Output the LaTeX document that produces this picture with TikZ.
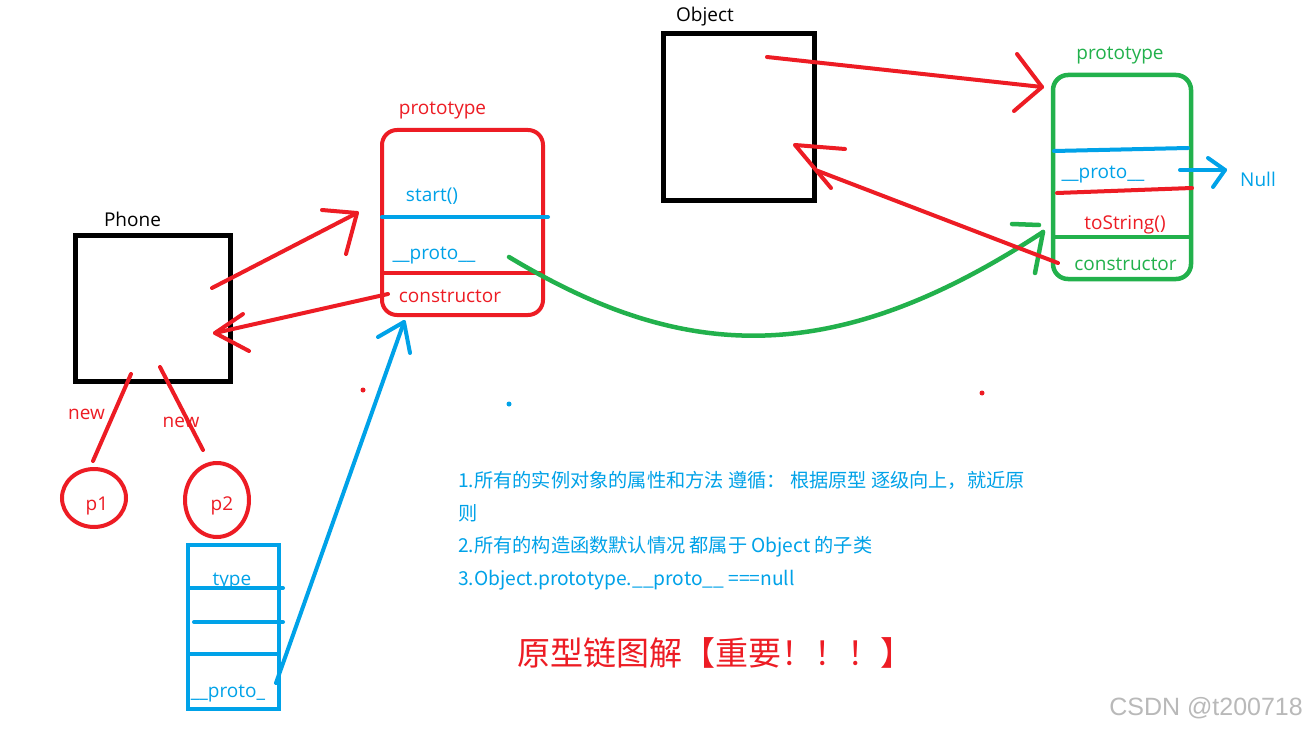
\documentclass[tikz,border=0pt]{standalone}
\usepackage{fontspec}
\setmainfont{Open Sans}
\newfontfamily\cjk{Noto Sans CJK SC}
\newfontfamily\wmfont{Liberation Sans}
\usetikzlibrary{shapes.geometric}
\definecolor{pred}{RGB}{237,28,36}
\definecolor{pblue}{RGB}{0,162,232}
\definecolor{pgreen}{RGB}{34,177,76}
\definecolor{wmgray}{RGB}{185,185,185}
\tikzset{
  lbl/.style={font=\fontsize{19}{22}\selectfont, inner sep=0pt, anchor=center},
  para/.style={font=\cjk\fontsize{19.2}{22}\selectfont, text=pblue, inner sep=0pt, anchor=west},
  blackbox/.style={draw=black, line width=5pt, minimum width=#1, inner sep=0pt},
  pen/.style={line width=4pt, line cap=round, line join=round},
  redpen/.style={pen, draw=pred},
  bluepen/.style={pen, draw=pblue},
  greenpen/.style={pen, draw=pgreen, line width=4.5pt},
  dot/.style={circle, fill=#1, inner sep=0pt, minimum size=5pt},
}
\begin{document}
\begin{tikzpicture}[x=1pt,y=-1pt]
\useasboundingbox (0,0) rectangle (1308,730);
\fill[white] (0,0) rectangle (1308,730);

% ---------- Phone ----------
\node[blackbox=155pt, minimum height=146pt] (phone) at (152.5,308) {};
\node[lbl, text=black] (phonelbl) at (132.5,219) {Phone};

% ---------- Object ----------
\node[blackbox=151pt, minimum height=166pt] (object) at (738.5,117) {};
\node[lbl, text=black] (objectlbl) at (705,17) {Object};

% ---------- red prototype box ----------
\node[draw=pred, line width=4pt, rounded corners=15pt, minimum width=161pt, minimum height=185pt, inner sep=0pt] (protoA) at (462.5,222.5) {};
\node[lbl, text=pred] (protoAlbl) at (442.5,111) {prototype};
\node[lbl, text=pblue] (startA) at (432,196) {start()};
\node[lbl, text=pblue] (protoAp) at (434,256) {\_\_proto\_\_};
\node[lbl, text=pred] (consA) at (450,296) {constructor};
\coordinate (dA1l) at (382,217); \coordinate (dA1r) at (548,217);
\coordinate (dA2l) at (382,273); \coordinate (dA2r) at (543,273);
\draw[bluepen] (dA1l) -- (dA1r);
\draw[redpen, line cap=butt] (dA2l) -- (dA2r);

% ---------- green prototype box ----------
\node[draw=pgreen, line width=4.5pt, rounded corners=15pt, minimum width=138pt, minimum height=204pt, inner sep=0pt] (protoB) at (1122,177) {};
\node[lbl, text=pgreen] (protoBlbl) at (1120,56) {prototype};
\node[lbl, text=pblue] (protoBp) at (1103,175) {\_\_proto\_\_};
\node[lbl, text=pred] (tostr) at (1125,225) {toString()};
\node[lbl, text=pgreen] (consB) at (1125.5,264) {constructor};
\coordinate (dB1l) at (1054,151); \coordinate (dB1r) at (1188,148);
\coordinate (dB2l) at (1057,193); \coordinate (dB2r) at (1192,188);
\coordinate (dB3l) at (1054,237); \coordinate (dB3r) at (1191,237);
\draw[bluepen] (dB1l) -- (dB1r);
\draw[redpen] (dB2l) -- (dB2r);
\draw[greenpen, line cap=butt] (dB3l) -- (dB3r);
\node[lbl, text=pblue] (null) at (1258,179) {Null};

% ---------- instances ----------
\node[draw=pred, line width=4pt, ellipse, minimum width=64pt, minimum height=58pt, inner sep=0pt] (p1) at (94,498) {};
\node[lbl, text=pred] (p1lbl) at (97,506) {p1};
\node[draw=pred, line width=4pt, ellipse, minimum width=64pt, minimum height=74pt, inner sep=0pt] (p2) at (217,500) {};
\node[lbl, text=pred] (p2lbl) at (222,506) {p2};
\node[lbl, text=pred] (new1) at (86.5,414) {new};
\node[lbl, text=pred] (new2) at (181,422) {new};
\coordinate (n1a) at (131,374); \coordinate (n1b) at (93,461);
\coordinate (n2a) at (160,367); \coordinate (n2b) at (203,450);
\draw[redpen] (n1a) -- (n1b);
\draw[redpen] (n2a) -- (n2b);

% ---------- blue instance box ----------
\node[lbl, text=pblue] (typelbl) at (232,582) {type};
\node[lbl, text=pblue] (protoCp) at (228,694) {\_\_proto\_};
\node[draw=pblue, line width=4pt, minimum width=91pt, minimum height=164pt, inner sep=0pt] (inst) at (233.5,627) {};
\coordinate (c1l) at (188,588); \coordinate (c1r) at (283,588);
\coordinate (c2l) at (194,622); \coordinate (c2r) at (283,622);
\coordinate (c3l) at (188,654); \coordinate (c3r) at (279,654);
\draw[bluepen] (c1l) -- (c1r);
\draw[bluepen] (c2l) -- (c2r);
\draw[bluepen, line cap=butt] (c3l) -- (c3r);

% ---------- connectors ----------
% Phone -> prototype
\coordinate (a1s) at (212,288); \coordinate (a1t) at (357,213);
\draw[redpen] (a1s) -- (a1t);
\draw[redpen] (a1t) -- ++(-35,-3) (a1t) -- ++(-11,41);
% constructor -> Phone
\coordinate (a2s) at (388,294); \coordinate (a2t) at (215,333);
\draw[redpen] (a2s) -- (a2t);
\draw[redpen] (a2t) -- ++(28,-19) (a2t) -- ++(34,18);
% instance __proto__ -> prototype
\coordinate (a3s) at (276,683); \coordinate (a3t) at (404,322);
\draw[bluepen] (a3s) -- (a3t);
\draw[bluepen] (a3t) -- ++(-26,15) (a3t) -- ++(6,31);
% prototype __proto__ -> Object prototype (green curve)
\coordinate (g0) at (509,257); \coordinate (gt) at (1043,232);
\draw[greenpen] (g0) .. controls (680,360) and (830,372) .. (gt);
\draw[greenpen] (gt) -- ++(-8,41);
\coordinate (gd1) at (1012,224); \coordinate (gd2) at (1039,225);
\draw[greenpen] (gd1) -- (gd2);
% Object -> prototype
\coordinate (a4s) at (767,57); \coordinate (a4t) at (1042,87);
\draw[redpen] (a4s) -- (a4t);
\draw[redpen] (a4t) -- ++(-25,-33) (a4t) -- ++(-28,24);
% constructor -> Object
\coordinate (a5s) at (1058,263); \coordinate (a5m) at (818,171); \coordinate (a5t) at (795,145);
\draw[redpen] (a5s) -- (a5m);
\draw[redpen] (a5t) -- ++(50,4) (a5t) -- ++(36,43);
% __proto__ -> Null
\coordinate (a6s) at (1180,170); \coordinate (a6t) at (1225,170);
\draw[bluepen] (a6s) -- (a6t);
\draw[bluepen] (a6t) -- ++(-17,-12) (a6t) -- ++(-12,17);

% stray dots
\node[dot=pred] (dot1) at (363,390) {};
\node[dot=pblue] (dot2) at (509,404) {};
\node[dot=pred] (dot3) at (982,393) {};

% ---------- notes ----------
\node[para] (l1) at (458,480) {1.所有的实例对象的属性和方法 遵循： 根据原型 逐级向上，就近原};
\node[para] (l2) at (458,513) {则};
\node[para] (l3) at (458,547) {2.所有的构造函数默认情况 都属于 Object 的子类};
\node[para] (l4) at (458,580) {3.Object.prototype.\_\_proto\_\_ ===null};
\node[font=\cjk\fontsize{33}{36}\selectfont, text=pred, inner sep=0pt, anchor=west] (title) at (517,653) {原型链图解【重要！！！】};
\node[font=\wmfont\fontsize{25}{28}\selectfont, text=wmgray, inner sep=0pt, anchor=east] (wm) at (1303,708) {CSDN @t200718};
\end{tikzpicture}
\end{document}
